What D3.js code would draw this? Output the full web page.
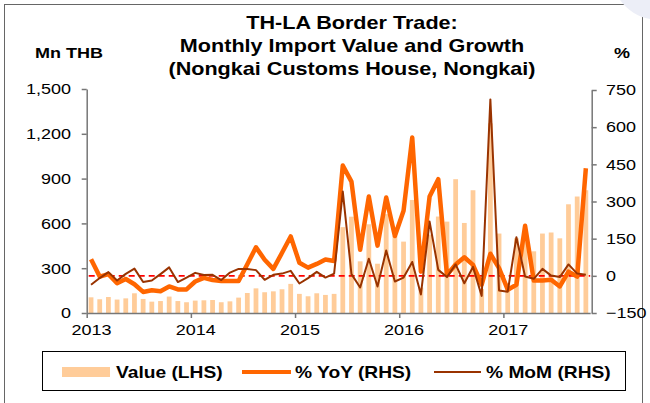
<!DOCTYPE html>
<html>
<head>
<meta charset="utf-8">
<script src="https://cdn.jsdelivr.net/npm/d3@7"></script>
<style>
	body { margin: 0; background: #fff; }
	svg { display: block; font-family: "Liberation Sans", Arial, sans-serif; }
</style>
</head>
<body>
<div id="chart"></div>
<script>

var years = ['2013', '2014', '2015', '2016', '2017'];

// import value, Mn THB (Jan 2013 - Oct 2017)
var valueData = [105, 92, 107, 90, 98, 132, 94, 76, 80, 110, 80, 72,
	83, 85, 87, 72, 78, 103, 134, 165, 139, 145, 159, 195,
	128, 112, 132, 121, 128, 575, 645, 346, 594, 330, 662, 515,
	478, 757, 170, 525, 646, 612, 896, 603, 822, 160, 1270, 532,
	200, 500, 490, 413, 532, 539, 500, 728, 780, 822];

// % YoY
var yoyData = [67, -3, 7, -30, -13, -34, -65, -58, -62, -43, -55, -55,
	-23, -8, -17, -21, -21, -21, 47, 115, 65, 28, 93, 159,
	53, 33, 48, 66, 60, 445, 380, 105, 320, 122, 316, 161,
	263, 558, 17, 320, 390, 4, 46, 75, 44, -36, 89, 31,
	-56, -36, 202, -19, -19, -16, -43, 17, -3, 434];

// % MoM
var momData = [-36, -9, 15, -19, 8, 29, -25, -19, 7, 34, -25, -7,
	12, 3, 4, -17, 13, 28, 28, 23, -16, 4, 9, 20,
	-31, -9, 16, -7, 9, 340, 7, -47, 69, -43, 102, -23,
	-7, 56, -75, 219, 24, -5, 46, -30, 36, -81, 712, -59,
	-64, 156, -3, -12, 28, 1, -5, 46, 9, 4];

var leftTicks = [0, 300, 600, 900, 1200, 1500];
var rightTicks = [-150, 0, 150, 300, 450, 600, 750];

var titleLines = ['TH-LA Border Trade:', 'Monthly Import Value and Growth', '(Nongkai Customs House, Nongkai)'];
var legendNames = ['Value (LHS)', '% YoY (RHS)', '% MoM (RHS)'];

var months = [];
years.forEach(function(y){
	for(var m=1; m<=12; m++){
		months.push(y + '-' + (m < 10 ? '0' + m : m));
	}
});
months = months.slice(0, valueData.length);

var W = 650, H = 403;
var x0 = 86.7, x1 = 590.2, yTop = 89, yBot = 313;
var stretch = 'scale(1.2,1)';

var svg = d3.select('#chart').append('svg').attr('width', W).attr('height', H);

// frame
svg.append('rect').attr('x', 4.5).attr('y', 4.5).attr('width', 638).attr('height', 430)
	.attr('fill', 'none').attr('stroke', '#666').attr('stroke-width', 1);
svg.append('path').attr('d', 'M620,0 Q632,16 650,19 L650,0 Z').attr('fill', '#eceef7');

var x = d3.scaleBand().domain(months).range([x0, x1]).paddingInner(0.45).paddingOuter(0.225);
var xi = d3.scaleLinear().domain([0, months.length]).range([x0, x1]);
var yL = d3.scaleLinear().domain([0, 1500]).range([yBot, yTop]);
var yR = d3.scaleLinear().domain([-150, 750]).range([yBot, yTop + 1]);

function label(sel, tx, ty, str, size, weight, anchor){
	return sel.append('text')
		.attr('transform', 'translate(' + tx + ',' + ty + ') ' + stretch)
		.attr('text-anchor', anchor || 'middle')
		.attr('font-size', size).attr('font-weight', weight || 'normal')
		.attr('fill', '#000').text(str);
}

// titles
titleLines.forEach(function(t, i){
	label(svg, 352, 29 + i*23, t, 18, 'bold');
});
label(svg, 69, 58, 'Mn THB', 15, 'bold');
label(svg, 622, 58, '%', 15, 'bold');

// bars
svg.append('g').selectAll('rect').data(valueData).enter().append('rect')
	.attr('x', function(d, i){ return x(months[i]); })
	.attr('width', x.bandwidth())
	.attr('y', function(d){ return yL(d); })
	.attr('height', function(d){ return yBot - yL(d); })
	.attr('fill', '#FFCC99');

// zero line RHS
svg.append('line')
	.attr('x1', x0 + 2).attr('x2', x1)
	.attr('y1', yR(0)).attr('y2', yR(0))
	.attr('stroke', '#FF0000').attr('stroke-width', 1.6).attr('stroke-dasharray', '6,4');

var line = d3.line()
	.x(function(d, i){ return x(months[i]) + x.bandwidth()/2; })
	.y(function(d){ return yR(d); });

svg.append('path').datum(yoyData).attr('d', line)
	.attr('fill', 'none').attr('stroke', '#FF6600').attr('stroke-width', 4.5).attr('stroke-linejoin', 'round');
svg.append('path').datum(momData).attr('d', line)
	.attr('fill', 'none').attr('stroke', '#993300').attr('stroke-width', 2).attr('stroke-linejoin', 'round');

// axes
function styleAxis(g){
	g.selectAll('path, line').attr('stroke', '#777').attr('stroke-width', 1.5);
	g.selectAll('text').attr('font-size', 15).attr('fill', '#000')
		.attr('font-family', '"Liberation Sans", Arial, sans-serif')
		.attr('transform', stretch);
}

svg.append('g').attr('transform', 'translate(' + x0 + ',0)')
	.call(d3.axisLeft(yL).tickValues(leftTicks).tickFormat(d3.format(',')).tickSizeInner(5).tickSizeOuter(0).tickPadding(8))
	.call(styleAxis);

svg.append('g').attr('transform', 'translate(' + (x1 + 1.5) + ',0)')
	.call(d3.axisRight(yR).tickValues(rightTicks).tickSizeInner(5).tickSizeOuter(0).tickPadding(7))
	.call(styleAxis);

svg.append('g').attr('transform', 'translate(0,' + yBot + ')')
	.call(d3.axisBottom(xi).tickValues([0, 12, 24, 36, 48]).tickFormat('').tickSizeInner(5).tickSizeOuter(0))
	.call(styleAxis);

svg.append('g').attr('transform', 'translate(0,' + (yBot + 4) + ')')
	.call(d3.axisBottom(xi).tickValues([0.5, 12.5, 24.5, 36.5, 48.5])
		.tickFormat(function(d){ return years[Math.floor(d/12)]; }).tickSize(0).tickPadding(7))
	.call(styleAxis)
	.call(function(g){ g.select('.domain').remove(); });

// legend
var lg = svg.append('g');
lg.append('rect').attr('x', 42.5).attr('y', 351.5).attr('width', 583).attr('height', 39)
	.attr('fill', '#fff').attr('stroke', '#000').attr('stroke-width', 1);
lg.append('rect').attr('x', 62).attr('y', 367).attr('width', 48).attr('height', 10).attr('fill', '#FFCC99');
lg.append('line').attr('x1', 242).attr('x2', 291).attr('y1', 372).attr('y2', 372)
	.attr('stroke', '#FF6600').attr('stroke-width', 4);
lg.append('line').attr('x1', 434).attr('x2', 481).attr('y1', 372).attr('y2', 372)
	.attr('stroke', '#993300').attr('stroke-width', 2);
[116, 295, 486].forEach(function(px, i){
	label(lg, px, 378, legendNames[i], 16, 'bold', 'start');
});

</script>
</body>
</html>
